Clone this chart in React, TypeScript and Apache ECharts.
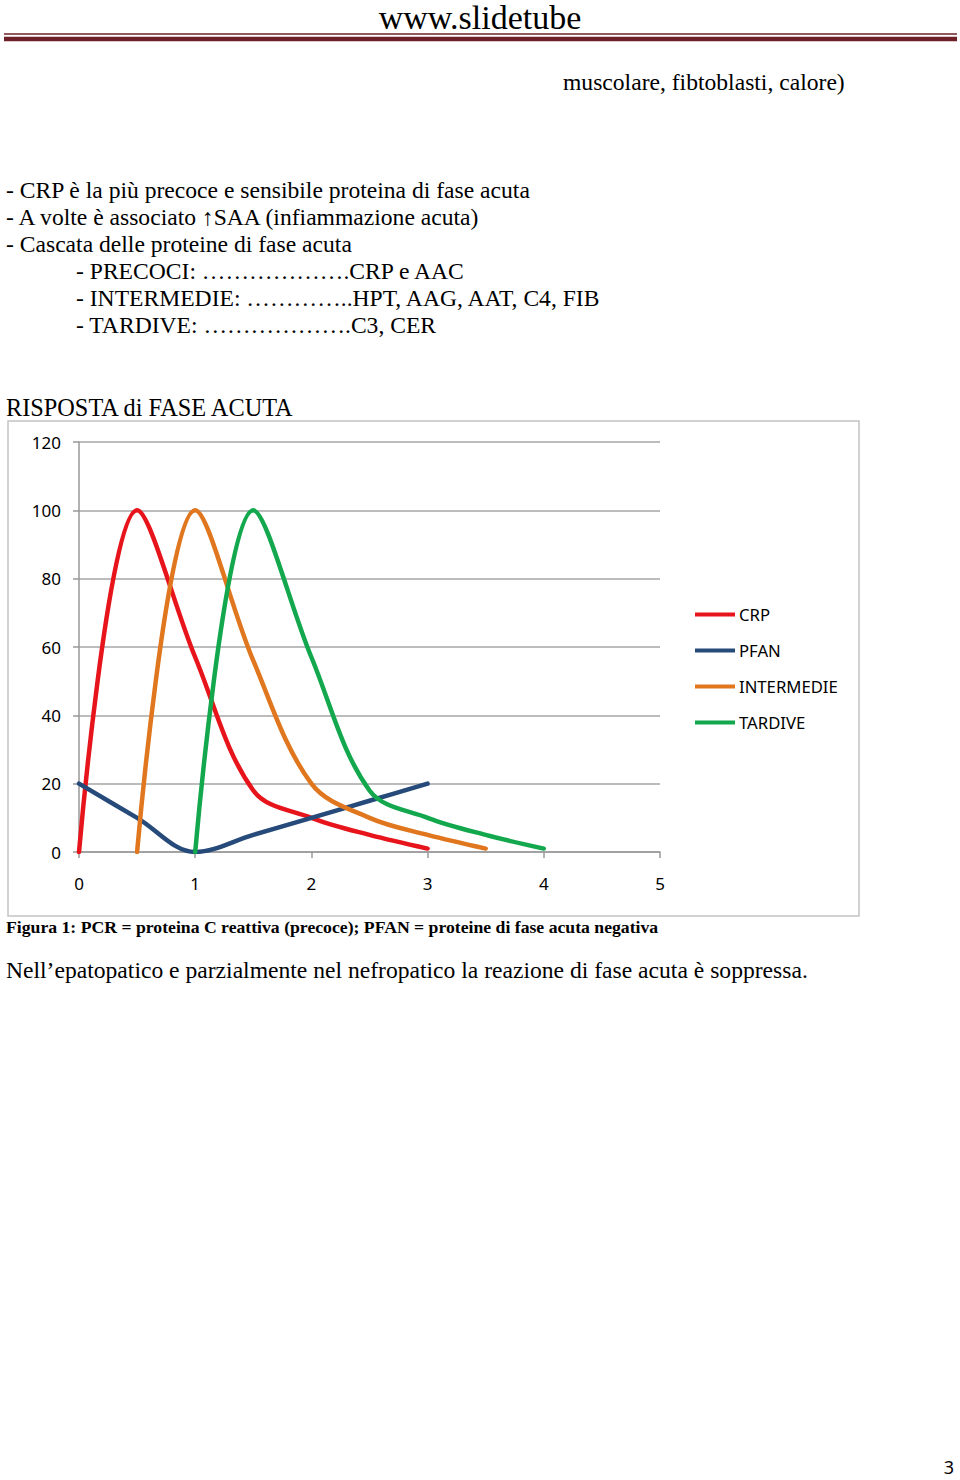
import React, { useEffect, useRef } from "react";
import * as echarts from "echarts";

const xTicks = [0, 1, 2, 3, 4, 5];
const yTicks = [0, 20, 40, 60, 80, 100, 120];

const crpX = [0, 0.5, 1, 1.5, 2, 2.5, 3];
const crpY = [0, 100, 57, 18, 10, 5, 1];

const pfanX = [0, 0.5, 1, 1.5, 2, 2.5, 3];
const pfanY = [20, 10, 0, 5, 10, 15, 20];

const interX = [0.5, 1, 1.5, 2, 2.5, 3, 3.5];
const interY = [0, 100, 56, 20, 10, 5, 1];

const tardX = [1, 1.5, 2, 2.5, 3, 3.5, 4];
const tardY = [0, 100, 57, 18, 10, 5, 1];

const seriesNames = ["CRP", "PFAN", "INTERMEDIE", "TARDIVE"];
const seriesColors = ["#e8141b", "#264a7a", "#e0761d", "#13a84e"];

const bulletLines = [
  "- CRP è la più precoce e sensibile proteina di fase acuta",
  "- A volte è associato \u2191SAA (infiammazione acuta)",
  "- Cascata delle proteine di fase acuta",
];
const subLines = [
  "- PRECOCI: \u2026\u2026\u2026\u2026\u2026\u2026.CRP e AAC",
  "- INTERMEDIE: \u2026\u2026\u2026\u2026..HPT, AAG, AAT, C4, FIB",
  "- TARDIVE: \u2026\u2026\u2026\u2026\u2026\u2026.C3, CER",
];

const pair = (xs: number[], ys: number[]) => xs.map((x, i) => [x, ys[i]]);

const serif = "'Liberation Serif', 'Times New Roman', serif";
const sans = "'Noto Sans', 'Open Sans', sans-serif";

export default function App() {
  const ref = useRef<HTMLDivElement>(null);
  useEffect(() => {
    if (!ref.current) return;
    const chart = echarts.init(ref.current, null, { renderer: "svg" });
    const seriesData = [pair(crpX, crpY), pair(pfanX, pfanY), pair(interX, interY), pair(tardX, tardY)];
    const txt = (text: string, x: number, y: number, size: number, extra: any = {}) => ({
      type: "text",
      x,
      y,
      silent: true,
      style: {
        text,
        fill: "#000",
        font: `${extra.weight || "normal"} ${size}px ${extra.family || serif}`,
        textAlign: extra.align || "left",
        textVerticalAlign: "middle",
      },
    });
    const graphics: any[] = [
      { type: "rect", shape: { x: 8, y: 421, width: 851, height: 495 }, style: { fill: "none", stroke: "#c4c4c4", lineWidth: 1.5 }, silent: true },
      { type: "line", shape: { x1: 4, y1: 34, x2: 957, y2: 34 }, style: { stroke: "#6d2027", lineWidth: 1.5 }, silent: true },
      { type: "line", shape: { x1: 4, y1: 39, x2: 957, y2: 39 }, style: { stroke: "#6d2027", lineWidth: 4.5 }, silent: true },
      txt("www.slidetube", 480, 17, 34, { align: "center" }),
      txt("muscolare, fibtoblasti, calore)", 563, 82, 23.6),
      ...bulletLines.map((t, i) => txt(t, 6, 190 + i * 27.2, 23.6)),
      ...subLines.map((t, i) => txt(t, 76, 271 + i * 27.2, 23.6)),
      txt("RISPOSTA di FASE ACUTA", 6, 407, 24.3),
      txt("Figura 1: PCR = proteina C reattiva (precoce); PFAN = proteine di fase acuta negativa", 6, 927, 17.7, { weight: "bold" }),
      txt("Nell\u2019epatopatico e parzialmente nel nefropatico la reazione di fase acuta è soppressa.", 6, 970, 23.6),
      txt("3", 954, 1467, 18, { align: "right", family: sans }),
    ];
    chart.setOption({
      animation: false,
      backgroundColor: "#fff",
      grid: { left: 79, top: 442, width: 581, height: 410, containLabel: false },
      xAxis: {
        type: "value",
        min: xTicks[0],
        max: xTicks[xTicks.length - 1],
        interval: 1,
        axisLine: { show: true, lineStyle: { color: "#999", width: 1.5 } },
        axisTick: { show: true, inside: false, length: 6, lineStyle: { color: "#999", width: 1.5 } },
        axisLabel: { color: "#000", fontFamily: sans, fontSize: 17, margin: 23 },
        splitLine: { show: false },
      },
      yAxis: {
        type: "value",
        min: yTicks[0],
        max: yTicks[yTicks.length - 1],
        interval: 20,
        axisLine: { show: true, lineStyle: { color: "#999", width: 1.5 } },
        axisTick: { show: true, length: 6, lineStyle: { color: "#999", width: 1.5 } },
        axisLabel: { color: "#000", fontFamily: sans, fontSize: 17, margin: 18 },
        splitLine: { show: true, lineStyle: { color: "#a6a6a6", width: 1.5 } },
      },
      legend: {
        orient: "vertical",
        left: 695,
        top: 606,
        padding: 0,
        itemWidth: 40,
        itemHeight: 4,
        itemGap: 19,
        icon: "rect",
        textStyle: { color: "#000", fontFamily: sans, fontSize: 16.7, padding: [0, 0, 0, -1] },
        data: seriesNames,
      },
      graphic: graphics,
      series: seriesNames.map((name, i) => ({
        name,
        type: "line",
        data: seriesData[i],
        smooth: 0.35,
        showSymbol: false,
        symbol: "none",
        lineStyle: { color: seriesColors[i], width: 4.5, cap: "round", join: "round" },
        itemStyle: { color: seriesColors[i] },
        z: 3,
      })),
    });
    return () => chart.dispose();
  }, []);
  return <div ref={ref} style={{ position: "absolute", left: 0, top: 0, width: 960, height: 1480 }} />;
}
